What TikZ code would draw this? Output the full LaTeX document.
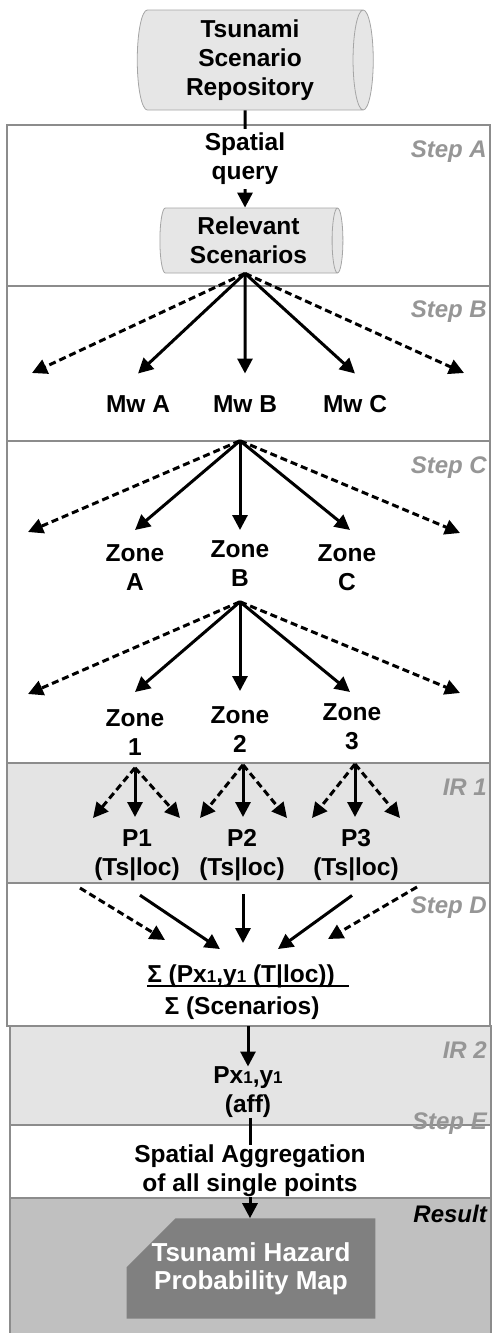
\documentclass[tikz,border=0pt]{standalone}
\usepackage{fontspec}
\setmainfont{Liberation Sans}
\usetikzlibrary{arrows.meta,shapes.geometric,shapes.misc,calc}
\definecolor{framecol}{RGB}{140,140,140}
\definecolor{stepcol}{RGB}{150,150,150}
\definecolor{irfill}{RGB}{228,228,228}
\definecolor{resfill}{RGB}{192,192,192}
\definecolor{mapfill}{RGB}{128,128,128}
\definecolor{cylfill}{RGB}{230,230,230}
\definecolor{cylline}{RGB}{165,165,165}
\newcommand{\smallone}{{\fontsize{17pt}{17pt}\selectfont 1}}
\begin{document}
\begin{tikzpicture}[x=1pt,y=-1pt,
  txt/.style={font=\bfseries\fontsize{24.5pt}{29pt}\selectfont, align=center, inner sep=0pt},
  steplbl/.style={font=\bfseries\itshape\fontsize{24pt}{28pt}\selectfont, text=stepcol, anchor=base east, inner sep=0pt},
  panel/.style={draw=framecol, line width=1.5pt},
  arr/.style={line width=3pt, -{Triangle[length=15pt,width=15pt]}},
  darr/.style={arr, dash pattern=on 7pt off 4pt},
  cyl/.style={cylinder, shape border rotate=0, draw=cylline, line width=0.8pt,
    cylinder uses custom fill, cylinder body fill=cylfill, cylinder end fill=cylfill}
]
\useasboundingbox (0,0) rectangle (492,1333);
% panels
\draw[panel, fill=white] (7,125) rectangle (490,286);
\draw[panel, fill=white] (7,286) rectangle (490,441);
\draw[panel, fill=white] (7,441) rectangle (490,763);
\draw[panel, fill=irfill] (7,763) rectangle (490,883);
\draw[panel, fill=white] (7,883) rectangle (490,1026);
\draw[panel, fill=irfill] (10,1026) rectangle (491,1125);
\draw[panel, fill=white] (10,1125) rectangle (491,1198);
\draw[panel, fill=resfill] (10,1198) rectangle (491,1340);
% step labels
\node[steplbl] (sA) at (487,157) {Step A};
\node[steplbl] (sB) at (487,317) {Step B};
\node[steplbl] (sC) at (487,473) {Step C};
\node[steplbl] (ir1) at (487,795) {IR 1};
\node[steplbl] (sD) at (487,913) {Step D};
\node[steplbl] (ir2) at (487,1058) {IR 2};
\node[steplbl] (sE) at (487,1129) {Step E};
\node[steplbl, text=black] (res) at (487,1222) {Result};
% cylinders
\node[txt, cyl, minimum height=236pt, minimum width=100pt, aspect=0.25] (repo) at (250,60) {Tsunami\\Scenario\\Repository};
\node[txt, cyl, minimum height=183pt, minimum width=65pt, aspect=0.23] (rel) at (248.5,240.5) {Relevant\\Scenarios};
\draw[arr] ([xshift=-5pt]repo.south) -- node[txt, fill=white, inner sep=4pt] (query) {Spatial\\query} ([xshift=-3.5pt]rel.north);
% Step B
\node[txt, anchor=north] (mwA) at (138,395.5) {Mw A};
\node[txt, anchor=north] (mwB) at (245,395.5) {Mw B};
\node[txt, anchor=north] (mwC) at (355,395.5) {Mw C};
\coordinate (apB) at ([xshift=-3.5pt]rel.south);
\coordinate (bL) at (32,373);
\coordinate (bR) at (464,373);
\draw[darr] (apB) -- (bL);
\draw[arr] (apB) -- ([yshift=22pt]mwA.north);
\draw[arr] (apB) -- ([yshift=22pt]mwB.north);
\draw[arr] (apB) -- ([yshift=22pt]mwC.north);
\draw[darr] (apB) -- (bR);
% Step C
\node[txt, anchor=north] (zA) at (135,544.5) {Zone\\A};
\node[txt, anchor=north] (zB) at (240,540.5) {Zone\\B};
\node[txt, anchor=north] (zC) at (347,544.5) {Zone\\C};
\coordinate (apC) at ([xshift=-5pt,yshift=-28pt]mwB.south);
\coordinate (cL) at (28,532);
\coordinate (cR) at (460,533);
\draw[darr] (apC) -- (cL);
\draw[arr] (apC) -- ([yshift=14.5pt]zA.north);
\draw[arr] (apC) -- ([yshift=10.5pt]zB.north);
\draw[arr] (apC) -- ([xshift=3pt,yshift=14.5pt]zC.north);
\draw[darr] (apC) -- (cR);
\node[txt, anchor=north] (z1) at (135,709.5) {Zone\\1};
\node[txt, anchor=north] (z2) at (240,706.5) {Zone\\2};
\node[txt, anchor=north] (z3) at (352,703.5) {Zone\\3};
\coordinate (apZ) at ([yshift=-15pt]zB.south);
\coordinate (dL) at (28,694);
\coordinate (dR) at (460,693);
\draw[darr] (apZ) -- (dL);
\draw[arr] (apZ) -- ([yshift=17.5pt]z1.north);
\draw[arr] (apZ) -- ([yshift=15.5pt]z2.north);
\draw[arr] (apZ) -- ([xshift=-2pt,yshift=11.5pt]z3.north);
\draw[darr] (apZ) -- (dR);
% IR 1
\node[txt, anchor=north] (p1) at (137,829.5) {P1\\(Ts|loc)};
\node[txt, anchor=north] (p2) at (242,829.5) {P2\\(Ts|loc)};
\node[txt, anchor=north] (p3) at (356,829.5) {P3\\(Ts|loc)};
\coordinate (a1) at ([yshift=-12pt]z1.south);
\coordinate (a2) at ([xshift=3pt,yshift=-12pt]z2.south);
\coordinate (a3) at ([xshift=3pt,yshift=-14pt]z3.south);
\coordinate (t1L) at (93,818);
\coordinate (t1R) at (180,818);
\coordinate (t2L) at (200,818);
\coordinate (t2R) at (287,818);
\coordinate (t3L) at (312,818);
\coordinate (t3R) at (400,818);
\draw[darr] (a1) -- (t1L);
\draw[arr] (a1) -- ([xshift=-2pt,yshift=12.5pt]p1.north);
\draw[darr] (a1) -- (t1R);
\draw[darr] (a2) -- (t2L);
\draw[arr] (a2) -- ([xshift=1pt,yshift=12.5pt]p2.north);
\draw[darr] (a2) -- (t2R);
\draw[darr] (a3) -- (t3L);
\draw[arr] (a3) -- ([xshift=-1pt,yshift=12.5pt]p3.north);
\draw[darr] (a3) -- (t3R);
% Step D
\node[txt, anchor=base] (num) at (241,982) {Σ (Px\smallone,y\smallone\ (T|loc))};
\node[txt, anchor=base] (den) at (242,1014) {Σ (Scenarios)};
\draw[line width=1.5pt] ([yshift=-4pt]num.base west) -- ([xshift=14pt,yshift=-4pt]num.base east);
\coordinate (eL0) at (80,888);
\coordinate (eL1) at (165,940);
\coordinate (eR0) at (417,887);
\coordinate (eR1) at (328,939);
\draw[darr] (eL0) -- (eL1);
\draw[arr] ([xshift=3pt,yshift=-14pt]p1.south) -- ([xshift=-21pt,yshift=15pt]num.north);
\draw[arr] ([xshift=1pt,yshift=-13pt]p2.south) -- ([xshift=2pt,yshift=21pt]num.north);
\draw[arr] ([xshift=-4pt,yshift=-14pt]p3.south) -- ([xshift=37pt,yshift=15pt]num.north);
\draw[darr] (eR0) -- (eR1);
% IR 2
\node[txt, anchor=north] (pxy) at (248,1066.5) {Px\smallone,y\smallone\\(aff)};
\draw[arr, shorten <=7pt] (den.south -| pxy.north) -- (pxy.north);
% Step E
\node[txt, anchor=north] (agg) at (250,1144.5) {Spatial Aggregation\\of all single points};
\draw[line width=3pt] (agg.north |- pxy.south) -- (agg.north);
% Result
\node[chamfered rectangle, chamfered rectangle corners=north west,
  chamfered rectangle xsep=25pt, chamfered rectangle ysep=24pt,
  minimum width=226pt, minimum height=89pt, inner sep=0pt, fill=mapfill,
  text=white, font=\bfseries\fontsize{26pt}{28pt}\selectfont, align=center] (map) at (251,1268.5) {Tsunami Hazard\\Probability Map};
\draw[arr] (agg.south) -- (agg.south |- map.north);
\end{tikzpicture}
\end{document}
